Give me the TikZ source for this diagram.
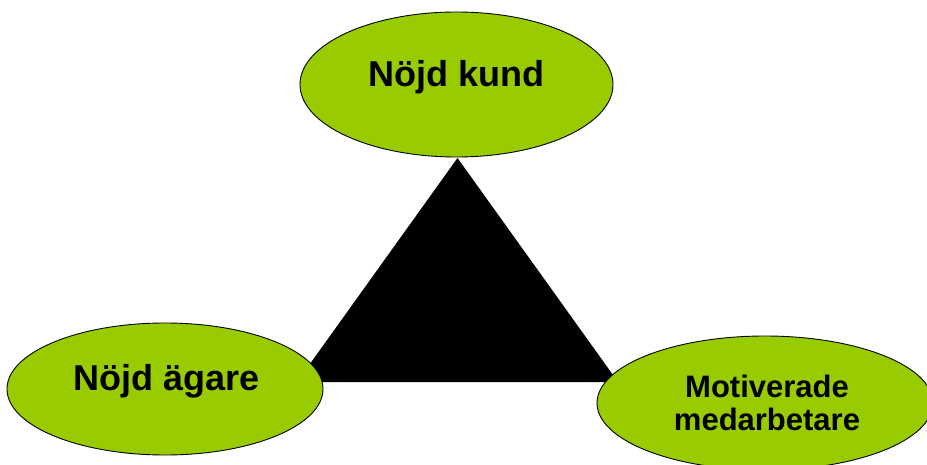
\documentclass[tikz,border=0pt]{standalone}
\usepackage{fontspec}
\setmainfont{Liberation Sans}
\usetikzlibrary{shapes.geometric}
\definecolor{leaf}{HTML}{99CC00}
\tikzset{
  goal/.style={ellipse, draw=black, line width=0.9pt, fill=leaf, inner sep=0pt},
  bigtext/.style={anchor=base, font=\bfseries\fontsize{36}{43}\selectfont},
  smalltext/.style={anchor=base, align=center, font=\bfseries\fontsize{31}{33}\selectfont}
}
\begin{document}
\begin{tikzpicture}[x=1pt,y=-1pt]
\useasboundingbox (0,0) rectangle (927,465);
\begin{scope}
\clip (0,0) rectangle (927,465);
% triangle
\coordinate (apex) at (457.5,158);
\coordinate (bl) at (297,382);
\coordinate (br) at (618,382);
\fill[black] (apex) -- (bl) -- (br) -- cycle;
% ellipses
\node[goal, minimum width=313pt, minimum height=145pt] (kund) at (456.5,84.5) {};
\node[goal, minimum width=316pt, minimum height=132pt] (agare) at (165,389) {};
\node[goal, minimum width=336pt, minimum height=134pt] (medarb) at (765,403) {};
% texts
\node[bigtext] (tkund) at (456.5,87) {Nöjd kund};
\node[bigtext] (tagare) at (167,390) {Nöjd ägare};
\node[smalltext, anchor=base] (tm1) at (767,397) {Motiverade};
\node[smalltext, anchor=base] (tm2) at (767,430) {medarbetare};
\end{scope}
\end{tikzpicture}
\end{document}
